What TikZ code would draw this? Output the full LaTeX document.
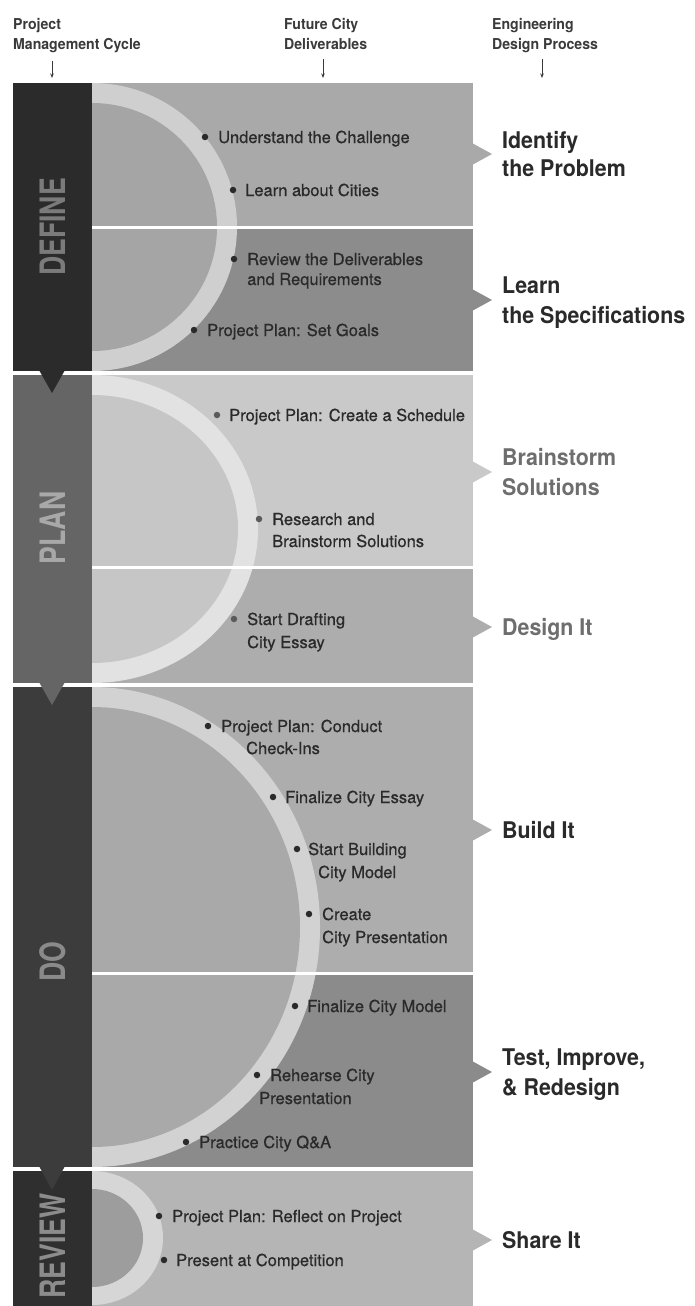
\documentclass[tikz,border=0pt]{standalone}
\usepackage{fontspec}
\setmainfont{TeX Gyre Heros}
\newfontfamily\itemfont{TeX Gyre Heros}[FakeBold=0.6]
\newfontfamily\hdrfont{TeX Gyre Heros}[FakeStretch=0.94]
\newfontfamily\lblfont{TeX Gyre Heros}[FakeStretch=0.93]
\newfontfamily\colfont{TeX Gyre Heros}[FakeStretch=0.76]
\usetikzlibrary{arrows.meta}
\definecolor{defcol}{HTML}{2B2B2B}
\definecolor{deftxt}{HTML}{7B7B7B}
\definecolor{defA}{HTML}{A9A9A9}
\definecolor{defB}{HTML}{8C8C8C}
\definecolor{defR}{HTML}{CFCFCF}
\definecolor{defI}{HTML}{A5A5A5}
\definecolor{plncol}{HTML}{656565}
\definecolor{plntxt}{HTML}{A8A8A8}
\definecolor{plnA}{HTML}{C9C9C9}
\definecolor{plnB}{HTML}{ADADAD}
\definecolor{plnR}{HTML}{E2E2E2}
\definecolor{plnI}{HTML}{C6C6C6}
\definecolor{docol}{HTML}{3C3C3C}
\definecolor{dotxt}{HTML}{8A8A8A}
\definecolor{doA}{HTML}{ADADAD}
\definecolor{doB}{HTML}{8B8B8B}
\definecolor{doR}{HTML}{D2D2D2}
\definecolor{doI}{HTML}{A9A9A9}
\definecolor{revcol}{HTML}{2F2F2F}
\definecolor{revtxt}{HTML}{8C8C8C}
\definecolor{revA}{HTML}{B5B5B5}
\definecolor{revR}{HTML}{D6D6D6}
\definecolor{revI}{HTML}{9D9D9D}
\definecolor{ink}{HTML}{2A2A2A}
\definecolor{hdr}{HTML}{3A3A3A}
\definecolor{lgray}{HTML}{6E6E6E}
\definecolor{pdot}{HTML}{5A5A5A}
\begin{document}
\begin{tikzpicture}[x=1pt,y=-1pt,
  itm/.style={anchor=base west, inner sep=0pt, text=ink, font=\itemfont\fontsize{16.5}{22}\selectfont},
  hdrtxt/.style={anchor=base west, inner sep=0pt, text=hdr, font=\hdrfont\bfseries\fontsize{15}{20}\selectfont},
  lbl/.style={anchor=base west, inner sep=0pt, text=ink, font=\lblfont\bfseries\fontsize{23}{28}\selectfont},
  collbl/.style={rotate=90, inner sep=0pt, font=\colfont\bfseries\fontsize{35}{35}\selectfont},
  bullet/.style={circle, fill=ink, inner sep=0pt, minimum size=6.5pt},
  harrow/.style={draw=hdr, line width=0.8pt, -{Stealth[length=4.5pt,width=3.5pt]}},
  divider/.style={fill=white}
]
\useasboundingbox[fill=white] (0,0) rectangle (694,1306);

% ---------- headers ----------
\node[hdrtxt] (h1a) at (13,29.5) {Project};
\node[hdrtxt] (h1b) at (13,49.5) {Management Cycle};
\node[hdrtxt] (h2a) at (284,29.5) {Future City};
\node[hdrtxt] (h2b) at (284,49.5) {Deliverables};
\node[hdrtxt] (h3a) at (492,29.5) {Engineering};
\node[hdrtxt] (h3b) at (492,49.5) {Design Process};
\coordinate (a1s) at (52,61); \coordinate (a1e) at (52,78);
\coordinate (a2s) at (323,59); \coordinate (a2e) at (323,78);
\coordinate (a3s) at (542,59); \coordinate (a3e) at (542,78);
\draw[harrow] (a1s) -- (a1e);
\draw[harrow] (a2s) -- (a2e);
\draw[harrow] (a3s) -- (a3e);

% ---------- DEFINE ----------
\begin{scope}
  \clip (92,83) rectangle (473,371);
  \fill[defA] (92,83) rectangle (473,227);
  \fill[defB] (92,227) rectangle (473,371);
  \fill[defR] (92,227) ellipse [x radius=145, y radius=144];
  \fill[defI] (92,227) ellipse [x radius=125, y radius=124];
\end{scope}
\fill[divider] (92,225.5) rectangle (473,228.5);
\fill[defA] (472,143) -- (492,154) -- (472,165) -- cycle;
\fill[defB] (472,289) -- (492,300) -- (472,311) -- cycle;

% ---------- PLAN ----------
\begin{scope}
  \clip (92,375) rectangle (473,683);
  \fill[plnA] (92,375) rectangle (473,567);
  \fill[plnB] (92,567) rectangle (473,683);
  \fill[plnR] (92,529) ellipse [x radius=166, y radius=154];
  \fill[plnI] (92,529) ellipse [x radius=146, y radius=134];
\end{scope}
\fill[divider] (92,565.5) rectangle (473,568.5);
\fill[plnA] (472,461) -- (492,472) -- (472,483) -- cycle;
\fill[plnB] (472,616) -- (492,627) -- (472,638) -- cycle;

% ---------- DO ----------
\begin{scope}
  \clip (92,687) rectangle (473,1167);
  \fill[doA] (92,687) rectangle (473,973);
  \fill[doB] (92,973) rectangle (473,1167);
  \fill[doR] (92,927) ellipse [x radius=228, y radius=240];
  \fill[doI] (92,927) ellipse [x radius=208, y radius=220];
\end{scope}
\fill[divider] (92,971.5) rectangle (473,974.5);
\fill[doA] (472,819) -- (492,830) -- (472,841) -- cycle;
\fill[doB] (472,1061) -- (492,1072) -- (472,1083) -- cycle;

% ---------- REVIEW ----------
\begin{scope}
  \clip (92,1171) rectangle (473,1306);
  \fill[revA] (92,1171) rectangle (473,1306);
  \fill[revR] (92,1238) ellipse [x radius=71, y radius=67];
  \fill[revI] (92,1238) ellipse [x radius=51, y radius=49];
\end{scope}
\fill[revA] (472,1229) -- (492,1240) -- (472,1251) -- cycle;

% ---------- left column ----------
\fill[defcol] (13,83) rectangle (92,371);
\fill[plncol] (13,375) rectangle (92,683);
\fill[docol] (13,687) rectangle (92,1167);
\fill[revcol] (13,1171) rectangle (92,1306);
\fill[defcol] (39,370) -- (65,370) -- (52,393) -- cycle;
\fill[plncol] (39,682) -- (65,682) -- (52,705) -- cycle;
\fill[docol] (39,1166) -- (65,1166) -- (52,1190) -- cycle;
\node[collbl, text=deftxt] (cDefine) at (53,227) {DEFINE};
\node[collbl, text=plntxt] (cPlan) at (53,528) {PLAN};
\node[collbl, text=dotxt] (cDo) at (53,962) {DO};
\node[collbl, text=revtxt] (cReview) at (53,1246) {REVIEW};

% ---------- items ----------
\node[bullet] (d1) at (205,137) {};
\node[itm] (t1) at (218,143) {Understand the Challenge};
\node[bullet] (d2) at (233,190) {};
\node[itm] (t2) at (245,196) {Learn about Cities};
\node[bullet] (d3) at (234,259) {};
\node[itm] (t3a) at (247,265) {Review the Deliverables};
\node[itm] (t3b) at (247,285) {and Requirements};
\node[bullet] (d4) at (194,330) {};
\node[itm] (t4) at (207,336) {Project Plan: Set Goals};

\node[bullet, fill=pdot] (d5) at (217,415) {};
\node[itm] (t5) at (229,421) {Project Plan: Create a Schedule};
\node[bullet, fill=pdot] (d6) at (259,519) {};
\node[itm] (t6a) at (272,525) {Research and};
\node[itm] (t6b) at (272,547) {Brainstorm Solutions};
\node[bullet, fill=pdot] (d7) at (234,619) {};
\node[itm] (t7a) at (247,625) {Start Drafting};
\node[itm] (t7b) at (247,648) {City Essay};

\node[bullet] (d8) at (208,726) {};
\node[itm] (t8a) at (221,732) {Project Plan: Conduct};
\node[itm] (t8b) at (246,754) {Check-Ins};
\node[bullet] (d9) at (273,797) {};
\node[itm] (t9) at (285,803) {Finalize City Essay};
\node[bullet] (d10) at (297,849) {};
\node[itm] (t10a) at (308,855) {Start Building};
\node[itm] (t10b) at (318,878) {City Model};
\node[bullet] (d11) at (309,914) {};
\node[itm] (t11a) at (322,920) {Create};
\node[itm] (t11b) at (322,943) {City Presentation};
\node[bullet] (d12) at (295,1006) {};
\node[itm] (t12) at (307,1012) {Finalize City Model};
\node[bullet] (d13) at (257,1075) {};
\node[itm] (t13a) at (270,1081) {Rehearse City};
\node[itm] (t13b) at (259,1104) {Presentation};
\node[bullet] (d14) at (186,1142) {};
\node[itm] (t14) at (199,1148) {Practice City Q\&A};

\node[bullet] (d15) at (159,1216) {};
\node[itm] (t15) at (172,1222) {Project Plan: Reflect on Project};
\node[bullet] (d16) at (164,1260) {};
\node[itm] (t16) at (176,1266) {Present at Competition};

% ---------- right labels ----------
\node[lbl] (r1a) at (502,148.5) {Identify};
\node[lbl] (r1b) at (502,176.5) {the Problem};
\node[lbl] (r2a) at (502,293) {Learn};
\node[lbl] (r2b) at (502,323) {the Specifications};
\node[lbl, text=lgray] (r3a) at (502,465) {Brainstorm};
\node[lbl, text=lgray] (r3b) at (502,495) {Solutions};
\node[lbl, text=lgray] (r4) at (502,635) {Design It};
\node[lbl] (r5) at (502,838) {Build It};
\node[lbl] (r6a) at (502,1065) {Test, Improve,};
\node[lbl] (r6b) at (502,1095) {\& Redesign};
\node[lbl] (r7) at (502,1248) {Share It};
\end{tikzpicture}
\end{document}
